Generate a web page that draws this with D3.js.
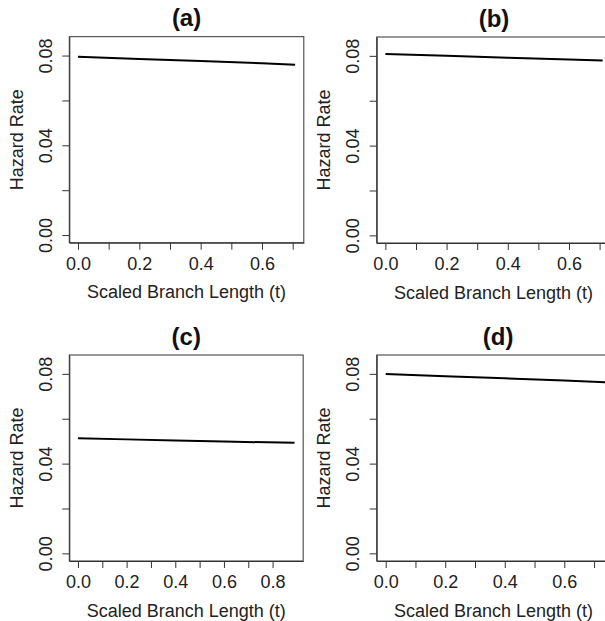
<!DOCTYPE html>
<html>
<head>
<meta charset="utf-8">
<script src="https://cdn.jsdelivr.net/npm/d3@7"></script>
<style>
  html, body { margin: 0; padding: 0; background: #fff; overflow: hidden; }
  svg { display: block; }
  text { font-family: "Liberation Sans", Arial, Helvetica, sans-serif; fill: #222; }
</style>
</head>
<body>
<svg id="chart" width="605" height="621"></svg>
<script>
// ---- data ----
const panelTitles = ["(a)", "(b)", "(c)", "(d)"];
const tA = [0, 0.2, 0.4, 0.6, 0.708];
const hA = [0.0795, 0.0785, 0.0776, 0.0766, 0.0759];
const tB = [0, 0.2, 0.4, 0.6, 0.71];
const hB = [0.0808, 0.0800, 0.0792, 0.0784, 0.0779];
const tC = [0, 0.2, 0.4, 0.6, 0.89];
const hC = [0.0513, 0.0508, 0.0503, 0.0498, 0.0493];
const tD = [0, 0.2, 0.4, 0.6, 0.755];
const hD = [0.0799, 0.0789, 0.0780, 0.0770, 0.0762];
const yTicks = [0, 0.02, 0.04, 0.06, 0.08];
const yTickLabels = ["0.00", "", "0.04", "", "0.08"];
const xTicksShort = [0, 0.1, 0.2, 0.3, 0.4, 0.5, 0.6, 0.7];
const xTicksLong = [0, 0.1, 0.2, 0.3, 0.4, 0.5, 0.6, 0.7, 0.8];
const xLabel = "Scaled Branch Length (t)";
const yLabel = "Hazard Rate";
const yMax = 0.085;

// ---- layout ----
const svg = d3.select("#chart");
const panels = [
  { title: panelTitles[0], t: tA, h: hA, ticks: xTicksShort, x0: 69.3, y0: 36.7, unit: 306.7 },
  { title: panelTitles[1], t: tB, h: hB, ticks: xTicksShort, x0: 376.7, y0: 37.0, unit: 306.0 },
  { title: panelTitles[2], t: tC, h: hC, ticks: xTicksLong, x0: 69.3, y0: 355, unit: 243.3 },
  { title: panelTitles[3], t: tD, h: hD, ticks: xTicksShort, x0: 376.7, y0: 355, unit: 297.7 }
];
const plotH = 206;
const labelW = 234; // visible width used for centring texts

panels.forEach(p => {
  const xmax = d3.max(p.t);
  const pad = 0.04 * xmax;
  const plotW = (xmax + 2 * pad) * p.unit;
  const x = d3.scaleLinear().domain([-pad, xmax + pad]).range([p.x0, p.x0 + plotW]);
  const y = d3.scaleLinear().domain([-0.04 * yMax, 1.04 * yMax]).range([p.y0 + plotH, p.y0]);

  const g = svg.append("g");

  // box
  g.append("rect")
    .attr("x", p.x0).attr("y", p.y0)
    .attr("width", plotW).attr("height", plotH)
    .attr("fill", "none").attr("stroke", "#333").attr("stroke-width", 1);

  // y axis
  const yAxis = d3.axisLeft(y).tickValues(yTicks)
    .tickFormat((d, i) => yTickLabels[i]).tickSize(7).tickSizeOuter(0);
  const ya = g.append("g").attr("transform", `translate(${p.x0},0)`).call(yAxis);
  ya.select(".domain").attr("stroke", "#333");
  ya.selectAll(".tick line").attr("stroke", "#333");
  ya.selectAll(".tick text")
    .attr("x", 0).attr("dy", null).attr("y", 0)
    .attr("transform", "translate(-17.6,0) rotate(-90)")
    .attr("text-anchor", "middle")
    .style("font-size", "18px").style("fill", "#222")
    .style("font-family", "'Liberation Sans', Arial, sans-serif");

  // x axis
  const xAxis = d3.axisBottom(x).tickValues(p.ticks)
    .tickFormat(d => (Math.round(d * 10) % 2 === 0 ? d3.format(".1f")(d) : ""))
    .tickSize(7).tickSizeOuter(0);
  const xa = g.append("g").attr("transform", `translate(0,${p.y0 + plotH})`).call(xAxis);
  xa.select(".domain").attr("stroke", "#333");
  xa.selectAll(".tick line").attr("stroke", "#333");
  xa.selectAll(".tick text")
    .attr("y", 27.3).attr("dy", null)
    .style("font-size", "18px").style("fill", "#222")
    .style("font-family", "'Liberation Sans', Arial, sans-serif");

  // axis titles
  const centre = p.x0 > 300 ? p.x0 + 116.8 : p.x0 + plotW / 2;
  g.append("text")
    .attr("x", centre)
    .attr("y", p.y0 + plotH + 55.6)
    .attr("text-anchor", "middle")
    .style("font-size", "18px")
    .text(xLabel);

  g.append("text")
    .attr("transform", `translate(${p.x0 - 46.6},${p.y0 + plotH / 2}) rotate(-90)`)
    .attr("text-anchor", "middle")
    .style("font-size", "18px")
    .text(yLabel);

  // panel title
  g.append("text")
    .attr("x", p.x0 + plotW / 2)
    .attr("y", p.y0 - 10.5)
    .attr("text-anchor", "middle")
    .style("font-size", "24px").style("font-weight", "bold").style("fill", "#111")
    .text(p.title);

  // hazard line
  const line = d3.line().x((d, i) => x(p.t[i])).y(d => y(d));
  g.append("path")
    .datum(p.h)
    .attr("d", line)
    .attr("fill", "none")
    .attr("stroke", "#000")
    .attr("stroke-width", 2);
});
</script>
</body>
</html>
